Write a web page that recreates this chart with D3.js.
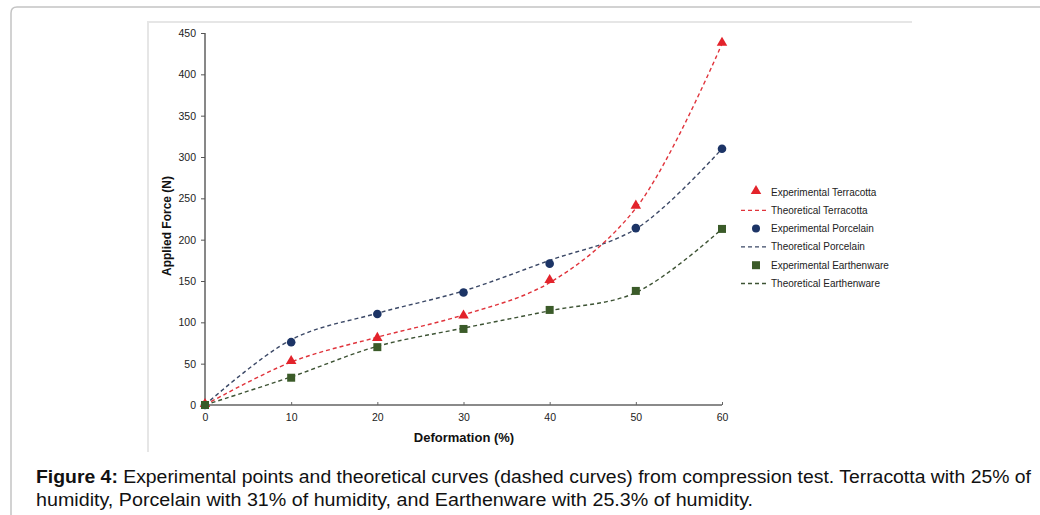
<!DOCTYPE html>
<html lang="en">
<head>
  <meta charset="UTF-8">
  <title>Figure 4 - Compression test</title>
  <script src="https://d3js.org/d3.v7.min.js"></script>
  <style>
    body { margin: 0; background: #fff; }
    svg { display: block; }
    .tick-label { font-family: "Liberation Sans", Arial, sans-serif; font-size: 10.5px; fill: #222; }
    .axis-title { font-family: "Liberation Sans", Arial, sans-serif; font-weight: bold; fill: #111; }
    .legend { font-family: "Liberation Sans", Arial, sans-serif; font-size: 10px; fill: #222; }
    .caption { font-family: "Liberation Sans", Arial, sans-serif; font-size: 17.5px; fill: #111; }
  </style>
</head>
<body>
<svg width="1040" height="515"></svg>
<script>
  // Deformation (%) and applied force (N)
  const deformation = [0, 10, 20, 30, 40, 50, 60];
  const expTerracotta = [0, 52, 80, 107, 150, 240, 437];
  const expPorcelain = [0, 76, 110, 136, 171, 214, 310];
  const expEarthenware = [0, 33, 70, 92, 115, 138, 213];
  const theoTerracotta = [0, 52, 82, 109, 148, 238, 437];
  const theoPorcelain = [0, 79, 111, 138, 175, 213, 310];
  const theoEarthenware = [0, 34, 71, 93, 114, 136, 213];
  const yTicks = [0, 50, 100, 150, 200, 250, 300, 350, 400, 450];
  const xTicks = [0, 10, 20, 30, 40, 50, 60];
  const legendLabels = ["Experimental Terracotta", "Theoretical Terracotta",
    "Experimental Porcelain", "Theoretical Porcelain",
    "Experimental Earthenware", "Theoretical Earthenware"];

  const svg = d3.select("svg");

  // page frame
  svg.append("path")
      .attr("d", "M11,1000 L11,13 Q11,7 17,7 L1060,7")
      .attr("fill", "none").attr("stroke", "#c4c4c4").attr("stroke-width", 1.5);
  svg.append("path")
      .attr("d", "M148,452 L148,22 L912,22")
      .attr("fill", "none").attr("stroke", "#e6e6e6").attr("stroke-width", 2);

  const x = d3.scaleLinear().domain([0, 60]).range([205, 722]);
  const y = d3.scaleLinear().domain([0, 450]).range([405, 33]);

  const colors = {terracotta: "#e3232b", porcelain: "#1c3466", earthenware: "#3b5b29"};
  const lineColors = {terracotta: "#e0333b", porcelain: "#3b4866", earthenware: "#3d5334"};

  // Y axis
  const yAxis = svg.append("g")
      .attr("transform", `translate(${x(0)},0)`)
      .call(d3.axisLeft(y).tickValues(yTicks).tickSize(4).tickPadding(5));
  yAxis.select(".domain").attr("stroke", "#111").attr("d", `M0,${y(450)}V${y(0)}`);
  yAxis.selectAll(".tick line").attr("stroke", "#555");
  yAxis.selectAll("text").attr("class", "tick-label").attr("font-size", null).attr("font-family", null);

  // X axis
  const xAxis = svg.append("g")
      .attr("transform", `translate(0,${y(0)})`)
      .call(d3.axisBottom(x).tickValues(xTicks).tickSize(-3).tickPadding(9));
  xAxis.select(".domain").attr("stroke", "#8a8a8a").attr("stroke-width", 2).attr("d", `M${x(0)},0H${x(60)}`);
  xAxis.selectAll(".tick line").attr("stroke", "#666");
  xAxis.selectAll("text").attr("class", "tick-label").attr("font-size", null).attr("font-family", null);

  svg.append("text").attr("class", "axis-title")
      .attr("font-size", 12)
      .attr("transform", "translate(171,226) rotate(-90)")
      .attr("text-anchor", "middle").text("Applied Force (N)");
  svg.append("text").attr("class", "axis-title")
      .attr("font-size", 13)
      .attr("x", 464).attr("y", 442)
      .attr("text-anchor", "middle").text("Deformation (%)");

  // theoretical curves
  const line = d3.line()
      .x((d, i) => x(deformation[i]))
      .y(d => y(d))
      .curve(d3.curveCatmullRom.alpha(0.5));

  [[theoPorcelain, "porcelain"], [theoTerracotta, "terracotta"], [theoEarthenware, "earthenware"]]
    .forEach(([vals, key]) => {
      svg.append("path").datum(vals)
          .attr("d", line)
          .attr("fill", "none")
          .attr("stroke", lineColors[key])
          .attr("stroke-width", 1.4)
          .attr("stroke-dasharray", "4,3");
    });

  // experimental points
  const tri = d3.symbol().type(d3.symbolTriangle).size(48);
  const sq = d3.symbol().type(d3.symbolSquare).size(64);

  svg.append("g").selectAll("circle")
    .data(expPorcelain).join("circle")
      .attr("cx", (d, i) => x(deformation[i]))
      .attr("cy", d => y(d))
      .attr("r", 4.3)
      .attr("fill", colors.porcelain);

  svg.append("g").selectAll("path")
    .data(expTerracotta).join("path")
      .attr("d", tri)
      .attr("transform", (d, i) => `translate(${x(deformation[i])},${y(d) - 1})`)
      .attr("fill", colors.terracotta);

  svg.append("g").selectAll("path")
    .data(expEarthenware).join("path")
      .attr("d", sq)
      .attr("transform", (d, i) => `translate(${x(deformation[i])},${y(d)})`)
      .attr("fill", colors.earthenware);

  // legend
  const legend = svg.append("g").attr("transform", "translate(740,192)");
  const legendKeys = ["terracotta", "terracotta", "porcelain", "porcelain", "earthenware", "earthenware"];
  legendLabels.forEach((label, i) => {
    const row = legend.append("g").attr("transform", `translate(0,${i * 18.3})`);
    const key = legendKeys[i];
    if (i % 2 === 0) {
      if (key === "terracotta") row.append("path").attr("d", tri).attr("transform", "translate(16,-1)").attr("fill", colors[key]);
      if (key === "porcelain") row.append("circle").attr("cx", 16).attr("r", 4).attr("fill", colors[key]);
      if (key === "earthenware") row.append("path").attr("d", sq).attr("transform", "translate(16,0)").attr("fill", colors[key]);
    } else {
      row.append("line").attr("x1", 1).attr("x2", 29).attr("y1", 0).attr("y2", 0)
          .attr("stroke", lineColors[key]).attr("stroke-width", 1.3).attr("stroke-dasharray", "4,3");
    }
    row.append("text").attr("class", "legend").attr("x", 31).attr("y", 3.5).text(label);
  });

  // caption
  const cap1 = svg.append("text").attr("class", "caption").attr("x", 36).attr("y", 483)
      .attr("textLength", 995).attr("lengthAdjust", "spacingAndGlyphs");
  cap1.append("tspan").attr("font-weight", "bold").text("Figure 4:");
  cap1.append("tspan").text(" Experimental points and theoretical curves (dashed curves) from compression test. Terracotta with 25% of");
  svg.append("text").attr("class", "caption").attr("x", 36).attr("y", 506)
      .attr("textLength", 717).attr("lengthAdjust", "spacingAndGlyphs")
      .text("humidity, Porcelain with 31% of humidity, and Earthenware with 25.3% of humidity.");
</script>
</body>
</html>
